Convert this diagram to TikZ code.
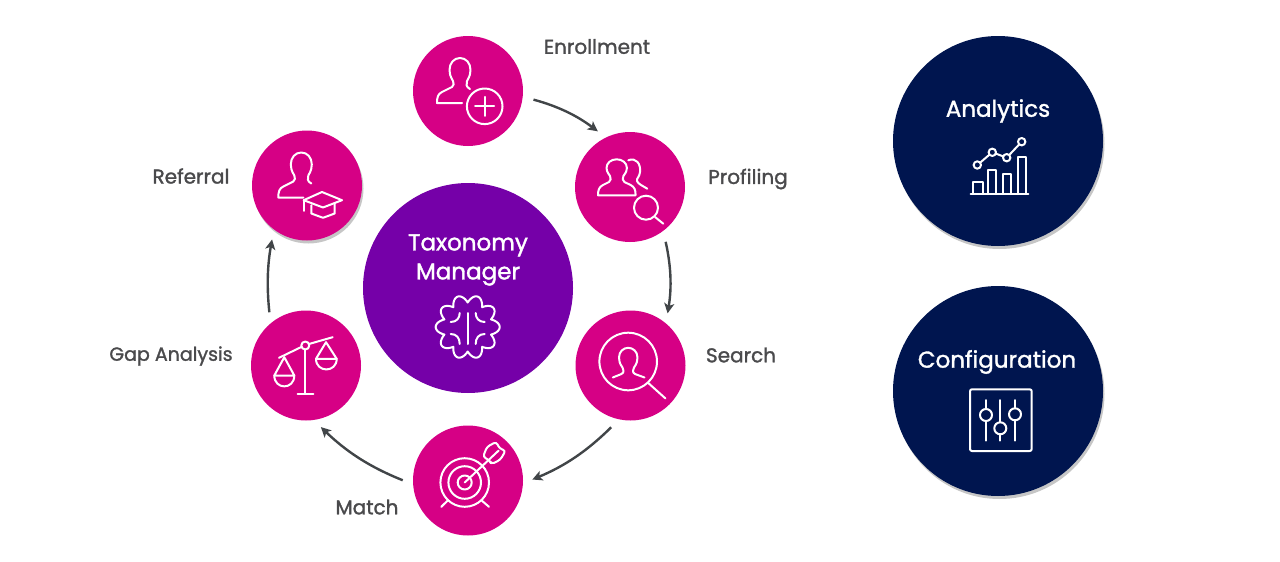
\documentclass[tikz,border=0pt]{standalone}
\usepackage{fontspec}
\usetikzlibrary{arrows.meta,shadows}
\newfontfamily\labelfont{Poppins}[FakeBold=1.4]
\definecolor{stagepink}{HTML}{D60085}
\definecolor{hubpurple}{HTML}{7500A8}
\definecolor{sidenavy}{HTML}{00154F}
\definecolor{labelgrey}{HTML}{4A4A4C}
\definecolor{flowgrey}{HTML}{414548}

\tikzset{
	stage/.style = {circle, fill=stagepink, minimum size=110pt, inner sep=0pt},
	hub/.style = {circle, fill=hubpurple, minimum size=210pt, inner sep=0pt},
	side/.style = {circle, fill=sidenavy, minimum size=210pt, inner sep=0pt},
	softshadow/.style = {drop shadow={opacity=0.45, shadow xshift=1.5pt, shadow yshift=-3pt}},
	steplabel/.style = {text=labelgrey, font=\labelfont\fontsize{20}{24}\selectfont},
	title/.style = {text=white, align=center, font=\labelfont\fontsize{23}{29}\selectfont},
	flow/.style = {-{Stealth[length=10pt,width=10pt,inset=2.5pt]}, flowgrey, line width=2.4pt, shorten <=11pt, shorten >=10pt},
	icon/.style = {white, line width=2pt, line cap=round, line join=round},
	bust/.pic = {
		\draw[icon] (2,33) -- (-23,33) .. controls (-23,27) and (-22,24) .. (-18,22) -- (-8,17)
			.. controls (-6,16) and (-6,13) .. (-7,11) .. controls (-10,6) and (-10.5,3) .. (-10.5,0)
			.. controls (-10.5,-7) and (-6,-12) .. (0,-12) .. controls (6,-12) and (10.5,-7) .. (10.5,0)
			.. controls (10.5,3) and (10,6) .. (7,11) .. controls (6,14) and (6,17) .. (10,19);
	}
}

\begin{document}
\begin{tikzpicture}[x=1pt, y=-1pt]
	\useasboundingbox (0,0) rectangle (1280,562);

	\node[stage] (enrollment) at (468,91) {};
	\node[stage] (profiling) at (630,187) {};
	\node[stage] (search) at (630.5,365.5) {};
	\node[stage] (match) at (468,480.5) {};
	\node[stage] (gap) at (306,365.5) {};
	\node[stage, softshadow] (referral) at (307,185.5) {};
	\node[hub] (manager) at (468,288) {};
	\node[side, softshadow] (analytics) at (998,141) {};
	\node[side, softshadow] (configuration) at (998,391) {};

	\node[steplabel] (enrollmentlabel) at (597,46.5) {Enrollment};
	\node[steplabel] (profilinglabel) at (748,179) {Profiling};
	\node[steplabel] (searchlabel) at (741,355) {Search};
	\node[steplabel] (matchlabel) at (367,507) {Match};
	\node[steplabel, font=\labelfont\fontsize{19}{24}\selectfont] (gaplabel) at (171,356) {Gap Analysis};
	\node[steplabel] (referrallabel) at (191,176) {Referral};
	\node[title] (managerlabel) at (468,260) {Taxonomy\\Manager};
	\node[title] (analyticslabel) at (998,111) {Analytics};
	\node[title] (configurationlabel) at (997,362) {Configuration};

	\draw[flow] (enrollment.-6) to [bend left=11] (profiling.116);
	\draw[flow] (profiling.-53) to [bend left=11] (search.50);
	\draw[flow] (search.-102) to [bend left=11] (match.-3);
	\draw[flow] (match.184) to [bend left=11] (gap.-82);
	\draw[flow] (gap.130) to [bend left=8] (referral.-127);

	% enrollment
	\begin{scope}[shift={(enrollment)}]
		\pic at (-8,-21) {bust};
		\draw[icon] (16.7,15.3) circle[radius=17.8];
		\draw[icon] (7.2,15.3) -- (26.2,15.3) (16.7,5.8) -- (16.7,24.8);
	\end{scope}

	% profiling
	\begin{scope}[shift={(profiling)}]
		\draw[icon] (5.6,8.3) -- (-32,8.3) .. controls (-32,3) and (-31,0) .. (-27,-2) -- (-21,-5)
			.. controls (-19,-6) and (-19,-9) .. (-20,-11) .. controls (-23,-15) and (-23.5,-17) .. (-23.5,-19)
			.. controls (-23.5,-24) and (-19,-27.7) .. (-13.3,-27.7) .. controls (-7.6,-27.7) and (-3.1,-24) .. (-3.1,-19)
			.. controls (-3.1,-17) and (-3.6,-15) .. (-6.6,-11) .. controls (-7.6,-9) and (-7.6,-6) .. (-5.6,-5)
			-- (0.6,-2) .. controls (4.6,0) and (5.6,3) .. (5.6,8.3);
		\draw[icon] (-1.7,-26.7) .. controls (6,-30) and (11,-23) .. (10,-15)
			.. controls (10,-11) and (6,-8) .. (7,-6) .. controls (8,-3) and (13,-1) .. (17.3,1.7);
		\draw[icon] (16,20.7) circle[radius=12];
		\draw[icon] (25,30) -- (33.3,36.7);
	\end{scope}

	% search
	\begin{scope}[shift={(search)}]
		\draw[icon] (-2.3,-4) circle[radius=28.8];
		\draw[icon] (18.3,18) -- (35,33);
		\draw[icon] (-17.7,12) -- (-9,8.5) .. controls (-6,7) and (-7,4) .. (-8,2)
			.. controls (-11,-2) and (-11.5,-5) .. (-11.5,-8) .. controls (-11.5,-14) and (-7,-17.7) .. (-2.3,-17.7)
			.. controls (2.4,-17.7) and (7,-14) .. (7,-8) .. controls (7,-5) and (6.5,-2) .. (3.5,2)
			.. controls (2.5,4) and (1.5,7) .. (4.5,8.5) -- (14,12);
	\end{scope}

	% match
	\begin{scope}[shift={(match)}]
		\draw[icon] (-3.3,2) circle[radius=24.3];
		\draw[icon] (-3.3,2) circle[radius=16.3];
		\draw[icon] (-3.3,2) circle[radius=7];
		\draw[icon] (-3.3,2) -- (30.7,-30);
		\draw[icon] (-20,19.7) -- (-26.7,26.3) (13.3,19.7) -- (21,26.3);
		\draw[icon, rounded corners=3pt] (21.7,-20) -- (15,-23.7) -- (19,-33.7) -- (28.3,-38.7) -- (31.7,-31.7) -- (37.7,-30)
			-- (32.3,-20.7) -- (23.3,-16.3) -- cycle;
	\end{scope}

	% gap analysis
	\begin{scope}[shift={(gap)}]
		\draw[icon] (-27,-7.7) -- (-4.5,-18.6) (3,-21.5) -- (26.7,-28.3);
		\draw[icon] (-0.7,-20) circle[radius=4];
		\draw[icon] (-0.7,-16) -- (-0.7,28.3);
		\draw[icon] (-8.3,28.3) -- (7.3,28.3);
		\draw[icon] (-21.7,-8.3) -- (-31.7,10) -- (-11.7,10) -- cycle;
		\draw[icon] (-31.7,10) .. controls (-31.7,24.5) and (-11.7,24.5) .. (-11.7,10);
		\draw[icon] (20,-23.3) -- (10,-6.7) -- (30.7,-6.7) -- cycle;
		\draw[icon] (10,-6.7) .. controls (10,7.5) and (30.7,7.5) .. (30.7,-6.7);
	\end{scope}

	% referral
	\begin{scope}[shift={(referral)}]
		\pic at (-5.7,-21) {bust};
		\draw[icon, fill=stagepink] (-3.3,14.7) -- (15,6.5) -- (35,14.7) -- (16,22) -- cycle;
		\draw[icon] (4.3,19.7) -- (4.3,28) -- (16,32.3) -- (27.7,28) -- (27.7,18);
		\draw[icon] (-3.3,14.7) -- (-3.3,25.3);
	\end{scope}

	% taxonomy manager
	\begin{scope}[shift={(467.7,327)}]
		\draw[icon] plot[domain=0:360, samples=241, smooth] ({(24.5+7.5*abs(cos(5*\x)))*cos(\x)}, {(24.5+7.5*abs(cos(5*\x)))*sin(\x)});
		\draw[icon] (0,-14) -- (0,17);
		\draw[icon] (-17,-5) .. controls (-11,-5) and (-8,-9) .. (-8,-14);
		\draw[icon] (17,-5) .. controls (11,-5) and (8,-9) .. (8,-14);
		\draw[icon] (-17,7) .. controls (-11,7) and (-8,11) .. (-8,17);
		\draw[icon] (17,7) .. controls (11,7) and (8,11) .. (8,17);
	\end{scope}

	% analytics
	\begin{scope}[shift={(analytics)}]
		\draw[icon] (-27.3,53) -- (30.3,53);
		\draw[icon] (-24.7,53) |- (-15.3,40.7) -- (-15.3,53);
		\draw[icon] (-9.7,53) |- (-2,29) -- (-2,53);
		\draw[icon] (5.3,53) |- (12.7,33.3) -- (12.7,53);
		\draw[icon] (20.3,53) |- (28,16.3) -- (28,53);
		\draw[icon] (-17.8,21.6) -- (-8.6,13.7) (-2.2,12.6) -- (5.2,15.4) (11.2,14) -- (21.2,3.4);
		\draw[icon] (-20.7,24) circle[radius=3.7] (-5.7,11.3) circle[radius=3.7] (8.7,16.7) circle[radius=3.7] (23.7,0.7) circle[radius=3.7];
	\end{scope}

	% configuration
	\begin{scope}[shift={(configuration)}]
		\draw[icon, rounded corners=2pt] (-28,-1.7) rectangle (33.7,60);
		\draw[icon] (-12,9) -- (-12,18) (-12,30) -- (-12,49.7);
		\draw[icon] (2.3,9) -- (2.3,31.3) (2.3,43.3) -- (2.3,49.7);
		\draw[icon] (17,9) -- (17,17.3) (17,29.3) -- (17,49.7);
		\draw[icon] (-12,24) circle[radius=6] (2.3,37.3) circle[radius=6] (17,23.3) circle[radius=6];
	\end{scope}
\end{tikzpicture}
\end{document}
